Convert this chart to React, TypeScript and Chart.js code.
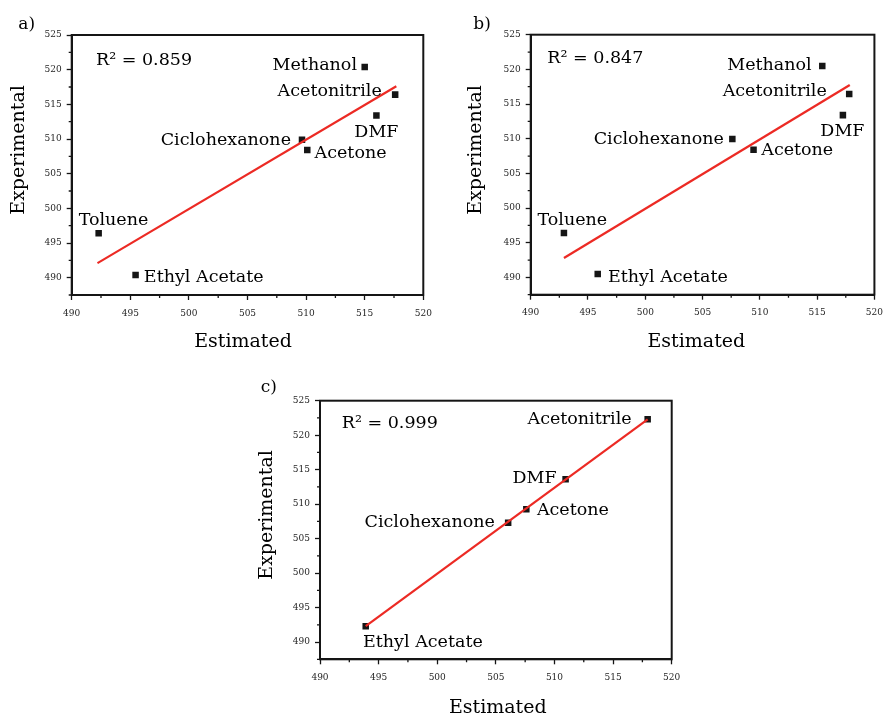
import React, { useEffect, useRef } from "react";
import { Chart, registerables } from "chart.js";

Chart.register(...registerables);

// ---------- shared axes ----------
const xRange = [490, 520];
const yRange = [487.5, 525];
const xTickValues = [490, 495, 500, 505, 510, 515, 520];
const yTickValues = [490, 495, 500, 505, 510, 515, 520, 525];
const xMinorTicks = [492.5, 497.5, 502.5, 507.5, 512.5, 517.5];
const yMinorTicks = [487.5, 492.5, 497.5, 502.5, 507.5, 512.5, 517.5, 522.5];
const xTitle = "Estimated";
const yTitle = "Experimental";

// ---------- panel a ----------
const solventsA = ["Methanol", "Acetonitrile", "DMF", "Ciclohexanone", "Acetone", "Toluene", "Ethyl Acetate"];
const estimatedA = [515.0, 517.6, 516.0, 509.65, 510.1, 492.3, 495.45];
const experimentalA = [520.4, 516.4, 513.4, 509.9, 508.4, 496.4, 490.4];
const fitXA = [492.2, 517.7];
const fitYA = [492.1, 517.6];
const r2A = "R² = 0.859";

// ---------- panel b ----------
const solventsB = ["Methanol", "Acetonitrile", "DMF", "Ciclohexanone", "Acetone", "Toluene", "Ethyl Acetate"];
const estimatedB = [515.45, 517.8, 517.25, 507.6, 509.45, 492.9, 495.85];
const experimentalB = [520.5, 516.45, 513.4, 509.95, 508.4, 496.4, 490.5];
const fitXB = [492.9, 517.85];
const fitYB = [492.8, 517.75];
const r2B = "R² = 0.847";

// ---------- panel c ----------
const solventsC = ["Acetonitrile", "DMF", "Acetone", "Ciclohexanone", "Ethyl Acetate"];
const estimatedC = [517.95, 510.95, 507.6, 506.05, 493.9];
const experimentalC = [522.3, 513.6, 509.25, 507.3, 492.3];
const fitXC = [493.9, 517.95];
const fitYC = [492.3, 522.3];
const r2C = "R² = 0.999";

// ---------- layout / style (not data) ----------
type LabelPos = { dx: number; dy: number; align: CanvasTextAlign };
const labelPosA: LabelPos[] = [
  { dx: -7.7, dy: 3.3, align: "right" },
  { dx: -13.4, dy: 1, align: "right" },
  { dx: 0, dy: 22, align: "center" },
  { dx: -11, dy: 5, align: "right" },
  { dx: 7.3, dy: 8, align: "left" },
  { dx: -20, dy: -8, align: "left" },
  { dx: 8.3, dy: 7, align: "left" },
];
const labelPosB: LabelPos[] = [
  { dx: -10.6, dy: 4, align: "right" },
  { dx: -22.4, dy: 1.7, align: "right" },
  { dx: -0.5, dy: 21, align: "center" },
  { dx: -8.4, dy: 5, align: "right" },
  { dx: 7.7, dy: 5.3, align: "left" },
  { dx: -26.4, dy: -7.7, align: "left" },
  { dx: 10.3, dy: 7.7, align: "left" },
];
const labelPosC: LabelPos[] = [
  { dx: -16, dy: 4.6, align: "right" },
  { dx: -9, dy: 4, align: "right" },
  { dx: 10.6, dy: 5.7, align: "left" },
  { dx: -13.3, dy: 4.3, align: "right" },
  { dx: -2.7, dy: 21, align: "left" },
];

const FONT = '"DejaVu Serif", "Liberation Serif", serif';
const AXIS_COLOR = "#151515";
const TEXT_COLOR = "#000000";
const TICK_TEXT_COLOR = "#262626";
const LINE_COLOR = "#ec2a24";
const POINT_COLOR = "#151515";

type PanelCfg = {
  letter: string;
  names: string[];
  xs: number[];
  ys: number[];
  fitX: number[];
  fitY: number[];
  r2: string;
  labelPos: LabelPos[];
  canvas: { left: number; top: number; w: number; h: number };
  padding: { top: number; right: number };
  yWidth: number;
  xHeight: number;
  r2Off: [number, number];
  xTitleOff: [number, number];
  yTitleOff: [number, number];
  letterPos: [number, number];
};

const panels: PanelCfg[] = [
  {
    letter: "a)",
    names: solventsA,
    xs: estimatedA,
    ys: experimentalA,
    fitX: fitXA,
    fitY: fitYA,
    r2: r2A,
    labelPos: labelPosA,
    canvas: { left: 0, top: 0, w: 445, h: 360 },
    padding: { top: 35, right: 21.7 },
    yWidth: 71.7,
    xHeight: 65,
    r2Off: [24.3, 30],
    xTitleOff: [-4.5, 51.7],
    yTitleOff: [-47.7, -15],
    letterPos: [18.3, 28.5],
  },
  {
    letter: "b)",
    names: solventsB,
    xs: estimatedB,
    ys: experimentalB,
    fitX: fitXB,
    fitY: fitYB,
    r2: r2B,
    labelPos: labelPosB,
    canvas: { left: 445, top: 0, w: 446, h: 360 },
    padding: { top: 34.7, right: 8.7 },
    yWidth: 85.7,
    xHeight: 65.3,
    r2Off: [16.6, 28.6],
    xTitleOff: [-6.2, 52],
    yTitleOff: [-50.2, -14.7],
    letterPos: [28.3, 28.5],
  },
  {
    letter: "c)",
    names: solventsC,
    xs: estimatedC,
    ys: experimentalC,
    fitX: fitXC,
    fitY: fitYC,
    r2: r2C,
    labelPos: labelPosC,
    canvas: { left: 240, top: 360, w: 451, h: 355 },
    padding: { top: 40.7, right: 19.3 },
    yWidth: 80,
    xHeight: 55.7,
    r2Off: [21.7, 27.6],
    xTitleOff: [1.9, 53.4],
    yTitleOff: [-48.5, -15],
    letterPos: [20.7, 32.3],
  },
];

function makeDecor(cfg: PanelCfg) {
  return {
    id: "decor",
    afterDraw(chart: any) {
      const { ctx, chartArea: ca, scales } = chart;
      const x = scales.x;
      const y = scales.y;
      ctx.save();
      // minor ticks
      ctx.strokeStyle = AXIS_COLOR;
      ctx.lineWidth = 1.3;
      ctx.beginPath();
      xMinorTicks.forEach((v) => {
        const px = x.getPixelForValue(v);
        ctx.moveTo(px, ca.bottom);
        ctx.lineTo(px, ca.bottom + 3);
      });
      yMinorTicks.forEach((v) => {
        const py = y.getPixelForValue(v);
        ctx.moveTo(ca.left - 3, py);
        ctx.lineTo(ca.left, py);
      });
      ctx.stroke();
      // frame
      ctx.lineWidth = 2;
      ctx.strokeRect(ca.left, ca.top, ca.right - ca.left, ca.bottom - ca.top);

      // point labels
      ctx.fillStyle = TEXT_COLOR;
      ctx.textBaseline = "alphabetic";
      ctx.font = `17.5px ${FONT}`;
      cfg.names.forEach((n, i) => {
        const px = x.getPixelForValue(cfg.xs[i]);
        const py = y.getPixelForValue(cfg.ys[i]);
        const p = cfg.labelPos[i];
        ctx.textAlign = p.align;
        ctx.fillText(n, px + p.dx, py + p.dy);
      });
      // R²
      ctx.textAlign = "left";
      ctx.fillText(cfg.r2, ca.left + cfg.r2Off[0], ca.top + cfg.r2Off[1]);

      // axis titles
      ctx.font = `19px ${FONT}`;
      ctx.textAlign = "center";
      ctx.fillText(xTitle, (ca.left + ca.right) / 2 + cfg.xTitleOff[0], ca.bottom + cfg.xTitleOff[1]);
      ctx.save();
      ctx.translate(ca.left + cfg.yTitleOff[0], (ca.top + ca.bottom) / 2 + cfg.yTitleOff[1]);
      ctx.rotate(-Math.PI / 2);
      ctx.fillText(yTitle, 0, 0);
      ctx.restore();

      // panel letter
      ctx.font = `17px ${FONT}`;
      ctx.textAlign = "left";
      ctx.fillText(cfg.letter, cfg.letterPos[0], cfg.letterPos[1]);
      ctx.restore();
    },
  };
}

function Panel({ cfg }: { cfg: PanelCfg }) {
  const ref = useRef<HTMLCanvasElement | null>(null);
  useEffect(() => {
    if (!ref.current) return;
    const chart = new Chart(ref.current, {
      type: "scatter",
      data: {
        datasets: [
          {
            type: "line",
            data: cfg.fitX.map((v, i) => ({ x: v, y: cfg.fitY[i] })),
            borderColor: LINE_COLOR,
            borderWidth: 2.2,
            pointRadius: 0,
            showLine: true,
            fill: false,
            order: 0,
          } as any,
          {
            type: "scatter",
            data: cfg.xs.map((v, i) => ({ x: v, y: cfg.ys[i] })),
            pointStyle: "rect",
            pointRadius: 4.6,
            backgroundColor: POINT_COLOR,
            borderColor: POINT_COLOR,
            borderWidth: 0,
            order: 1,
          } as any,
        ],
      },
      options: {
        animation: false,
        responsive: false,
        events: [],
        layout: {
          padding: { top: cfg.padding.top, right: cfg.padding.right, left: 0, bottom: 0 },
        },
        plugins: {
          legend: { display: false },
          tooltip: { enabled: false },
        },
        scales: {
          x: {
            type: "linear",
            min: xRange[0],
            max: xRange[1],
            bounds: "data",
            afterBuildTicks: (s: any) => {
              s.ticks = xTickValues.map((v) => ({ value: v }));
            },
            afterFit: (s: any) => {
              s.height = cfg.xHeight;
            },
            grid: {
              drawOnChartArea: false,
              drawTicks: true,
              tickLength: 5,
              tickWidth: 1.3,
              tickColor: AXIS_COLOR,
            },
            border: { display: true, width: 2, color: AXIS_COLOR },
            ticks: {
              font: { family: FONT, size: 9 },
              color: TICK_TEXT_COLOR,
              padding: 8,
              maxRotation: 0,
              autoSkip: false,
              callback: (v: any) => String(v),
            },
            title: { display: false },
          },
          y: {
            type: "linear",
            min: yRange[0],
            max: yRange[1],
            bounds: "data",
            afterBuildTicks: (s: any) => {
              s.ticks = yTickValues.map((v) => ({ value: v }));
            },
            afterFit: (s: any) => {
              s.width = cfg.yWidth;
            },
            grid: {
              drawOnChartArea: false,
              drawTicks: true,
              tickLength: 5,
              tickWidth: 1.3,
              tickColor: AXIS_COLOR,
            },
            border: { display: true, width: 2, color: AXIS_COLOR },
            ticks: {
              font: { family: FONT, size: 9 },
              color: TICK_TEXT_COLOR,
              padding: 5,
              autoSkip: false,
              callback: (v: any) => String(v),
            },
            title: { display: false },
          },
        },
      },
      plugins: [makeDecor(cfg)],
    } as any);
    return () => chart.destroy();
  }, [cfg]);
  return (
    <canvas
      ref={ref}
      width={cfg.canvas.w}
      height={cfg.canvas.h}
      style={{
        position: "absolute",
        left: cfg.canvas.left,
        top: cfg.canvas.top,
        width: cfg.canvas.w,
        height: cfg.canvas.h,
      }}
    />
  );
}

export default function App() {
  return (
    <div
      style={{
        position: "absolute",
        left: 0,
        top: 0,
        width: 891,
        height: 715,
        background: "#ffffff",
        overflow: "hidden",
      }}
    >
      {panels.map((p) => (
        <Panel key={p.letter} cfg={p} />
      ))}
    </div>
  );
}
